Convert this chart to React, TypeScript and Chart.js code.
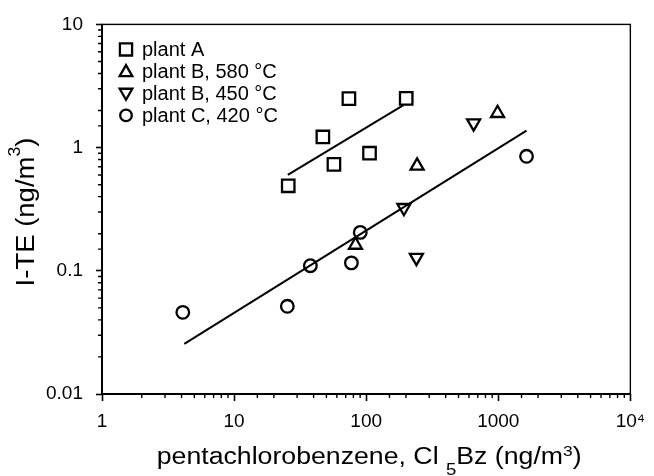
import React, { useEffect, useRef } from "react";
import { Chart, registerables } from "chart.js";

Chart.register(...registerables);

// ---- data ----
const plantAX = [25.7, 47, 57, 74, 106, 201];
const plantAY = [0.49, 1.22, 0.73, 2.5, 0.9, 2.51];
const plantB580X = [83, 243, 988];
const plantB580Y = [0.162, 0.71, 1.9];
const plantB450X = [193, 240, 651];
const plantB450Y = [0.325, 0.128, 1.58];
const plantCX = [4.09, 25.3, 37.8, 77.3, 90.2, 1637];
const plantCY = [0.046, 0.0515, 0.11, 0.116, 0.205, 0.85];
const fitAX = [25.5, 193];
const fitAY = [0.6, 2.22];
const fitAllX = [4.2, 1637];
const fitAllY = [0.0255, 1.375];

const seriesLabels = ["plant A", "plant B, 580 °C", "plant B, 450 °C", "plant C, 420 °C"];
const xTickValues = [1, 10, 100, 1000, 10000];
const xTickLabels = ["1", "10", "100", "1000", "10⁴"];
const yTickValues = [0.01, 0.1, 1, 10];
const yTickLabels = ["0.01", "0.1", "1", "10"];

const FONT = "'Liberation Sans', Arial, Helvetica, sans-serif";

const zip = (xs: number[], ys: number[]) => xs.map((x, i) => ({ x, y: ys[i] }));

const isDecade = (v: number) => {
  const l = Math.log10(v);
  return Math.abs(l - Math.round(l)) < 1e-6;
};

const labelFor = (values: number[], labels: string[]) => (v: any) => {
  const n = Number(v);
  for (let i = 0; i < values.length; i++) {
    if (Math.abs(Math.log10(n) - Math.log10(values[i])) < 1e-6) return labels[i];
  }
  return "";
};

function markerPath(ctx: CanvasRenderingContext2D, style: string, rot: number, x: number, y: number, r: number) {
  ctx.beginPath();
  if (style === "rect") {
    const s = r * Math.SQRT1_2;
    ctx.rect(x - s, y - s, 2 * s, 2 * s);
  } else if (style === "circle") {
    ctx.arc(x, y, r, 0, Math.PI * 2);
  } else {
    let a = (rot * Math.PI) / 180;
    for (let k = 0; k < 3; k++) {
      const px = x + Math.sin(a) * r;
      const py = y - Math.cos(a) * r;
      if (k === 0) ctx.moveTo(px, py);
      else ctx.lineTo(px, py);
      a += (2 * Math.PI) / 3;
    }
    ctx.closePath();
  }
}

const decorPlugin = {
  id: "decor",
  afterDraw(chart: any) {
    const ctx: CanvasRenderingContext2D = chart.ctx;
    const ca = chart.chartArea;
    ctx.save();
    // frame
    ctx.strokeStyle = "#000";
    ctx.lineWidth = 1.4;
    ctx.strokeRect(ca.left, ca.top, ca.right - ca.left, ca.bottom - ca.top);
    ctx.lineWidth = 2;
    ctx.beginPath();
    ctx.moveTo(ca.left, ca.top);
    ctx.lineTo(ca.left, ca.bottom);
    ctx.lineTo(ca.right, ca.bottom);
    ctx.stroke();

    // minor ticks
    ctx.lineWidth = 1.4;
    const xs = chart.scales.x;
    const ys = chart.scales.y;
    ctx.beginPath();
    xs.ticks.forEach((t: any) => {
      if (isDecade(t.value)) return;
      const px = xs.getPixelForValue(t.value);
      ctx.moveTo(px, ca.bottom);
      ctx.lineTo(px, ca.bottom + 4);
    });
    ys.ticks.forEach((t: any) => {
      if (isDecade(t.value)) return;
      const py = ys.getPixelForValue(t.value);
      ctx.moveTo(ca.left, py);
      ctx.lineTo(ca.left - 4, py);
    });
    ctx.stroke();

    // legend
    const items = chart.data.datasets.filter((d: any) => d.pointRadius > 0);
    ctx.font = `20px ${FONT}`;
    ctx.fillStyle = "#000";
    ctx.textBaseline = "middle";
    ctx.textAlign = "left";
    items.forEach((d: any, i: number) => {
      const mx = ca.left + 24;
      const my = ca.top + 25 + i * 22;
      ctx.lineWidth = 2.3;
      const r = d.pointStyle === "rect" ? 8.6 : d.pointStyle === "circle" ? 5.8 : 7.3;
      markerPath(ctx, d.pointStyle, d.pointRotation || 0, mx, my + (d.pointStyle === "triangle" ? (d.pointRotation ? -1 : 1) : 0), r);
      ctx.stroke();
      ctx.fillText(d.label, ca.left + 40, my + 1);
    });

    const measure = (segs: [string, number, number][]) => {
      let w = 0;
      segs.forEach(([t, size]) => {
        ctx.font = `${size}px ${FONT}`;
        w += ctx.measureText(t).width;
      });
      return w;
    };
    // x title
    const xSegs: [string, number, number][] = [
      ["pentachlorobenzene, Cl ", 23, 0],
      ["5", 16, 11],
      ["Bz (ng/m", 23, 0],
      ["3", 15, -8],
      [")", 23, 0],
    ];
    {
      const sx = 1.16;
      const w = measure(xSegs);
      const cx = (ca.left + ca.right) / 2 + 3;
      ctx.save();
      ctx.translate(cx, 464);
      ctx.scale(sx, 1);
      ctx.textBaseline = "alphabetic";
      let x = -w / 2;
      xSegs.forEach(([t, size, dy]) => {
        ctx.font = `${size}px ${FONT}`;
        ctx.fillText(t, x, dy);
        x += ctx.measureText(t).width;
      });
      ctx.restore();
    }
    // y title
    const ySegs: [string, number, number][] = [
      ["I-TE (ng/m", 25, 0],
      ["3", 16, -14],
      [")", 25, 0],
    ];
    {
      const sx = 1.1;
      const w = measure(ySegs);
      ctx.save();
      ctx.translate(34, 212);
      ctx.rotate(-Math.PI / 2);
      ctx.scale(sx, 1);
      ctx.textBaseline = "alphabetic";
      let x = -w / 2;
      ySegs.forEach(([t, size, dy]) => {
        ctx.font = `${size}px ${FONT}`;
        ctx.fillText(t, x, dy);
        x += ctx.measureText(t).width;
      });
      ctx.restore();
    }
    ctx.restore();
  },
};

export default function App() {
  const ref = useRef<HTMLCanvasElement | null>(null);

  useEffect(() => {
    if (!ref.current) return;
    const markerCommon = {
      borderColor: "#000",
      backgroundColor: "rgba(0,0,0,0)",
      borderWidth: 2.3,
      showLine: false,
    };
    const lineCommon = {
      borderColor: "#000",
      backgroundColor: "#000",
      borderWidth: 2,
      pointRadius: 0,
      pointHoverRadius: 0,
      showLine: true,
      fill: false,
    };
    const chart = new Chart(ref.current, {
      type: "scatter",
      data: {
        datasets: [
          { ...lineCommon, label: "fit A", data: zip(fitAX, fitAY) },
          { ...lineCommon, label: "fit all", data: zip(fitAllX, fitAllY) },
          { ...markerCommon, label: seriesLabels[0], data: zip(plantAX, plantAY), pointStyle: "rect", pointRadius: 8.8 },
          { ...markerCommon, label: seriesLabels[1], data: zip(plantB580X, plantB580Y), pointStyle: "triangle", pointRadius: 7.5, pointRotation: 0 },
          { ...markerCommon, label: seriesLabels[2], data: zip(plantB450X, plantB450Y), pointStyle: "triangle", pointRadius: 7.5, pointRotation: 180 },
          { ...markerCommon, label: seriesLabels[3], data: zip(plantCX, plantCY), pointStyle: "circle", pointRadius: 6.3 },
        ] as any,
      },
      options: {
        animation: false,
        responsive: false,
        layout: { padding: { left: 0, top: 18, right: 17, bottom: 0 } },
        plugins: { legend: { display: false }, tooltip: { enabled: false }, title: { display: false } },
        scales: {
          x: {
            type: "logarithmic",
            position: "bottom",
            min: 1,
            max: 10000,
            afterFit: (s: any) => {
              s.height = 82;
            },
            grid: {
              display: true,
              drawOnChartArea: false,
              drawTicks: true,
              tickLength: 7,
              tickWidth: 1.6,
              tickColor: (c: any) => (c.tick && isDecade(c.tick.value) ? "#000" : "rgba(0,0,0,0)"),
            },
            border: { display: false },
            ticks: {
              autoSkip: false,
              maxRotation: 0,
              padding: 9,
              color: "#000",
              font: { family: FONT, size: 19 },
              callback: labelFor(xTickValues, xTickLabels),
            },
          },
          y: {
            type: "logarithmic",
            position: "left",
            min: 0.01,
            max: 10,
            afterFit: (s: any) => {
              s.width = 102;
            },
            grid: {
              display: true,
              drawOnChartArea: false,
              drawTicks: true,
              tickLength: 6,
              tickWidth: 1.6,
              tickColor: (c: any) => (c.tick && isDecade(c.tick.value) ? "#000" : "rgba(0,0,0,0)"),
            },
            border: { display: false },
            ticks: {
              autoSkip: false,
              padding: 13,
              color: "#000",
              font: { family: FONT, size: 19 },
              callback: labelFor(yTickValues, yTickLabels),
            },
          },
        },
      } as any,
      plugins: [decorPlugin],
    });
    return () => chart.destroy();
  }, []);

  return (
    <div style={{ position: "fixed", left: 0, top: 0, width: 654, height: 476, background: "#fff" }}>
      <canvas ref={ref} width={654} height={476} style={{ display: "block" }} />
    </div>
  );
}
